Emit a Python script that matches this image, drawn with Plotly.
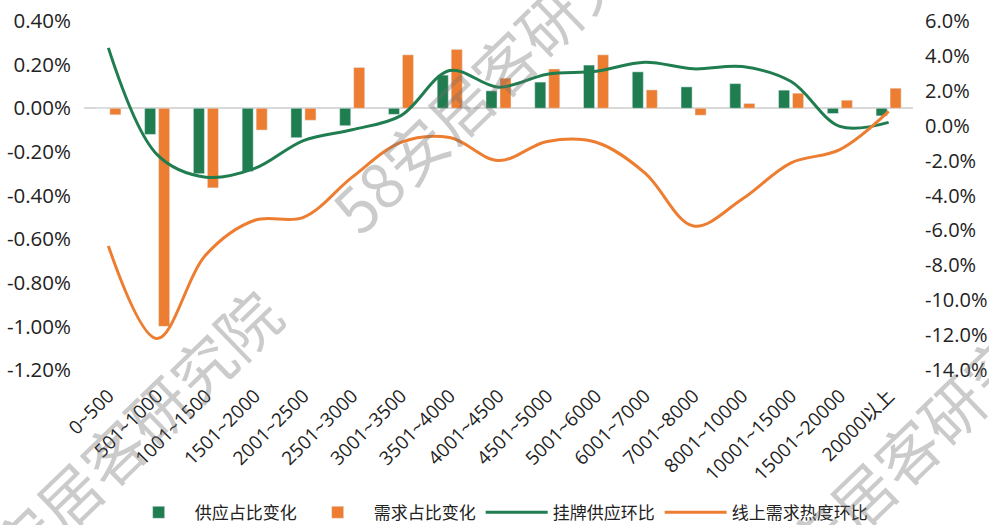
import plotly.graph_objects as go

categories = ["0~500", "501~1000", "1001~1500", "1501~2000", "2001~2500", "2501~3000",
              "3001~3500", "3501~4000", "4001~4500", "4501~5000", "5001~6000", "6001~7000",
              "7001~8000", "8001~10000", "10001~15000", "15001~20000", "20000以上"]

# left axis (%)
supply_share_change = [0.0, -0.12, -0.30, -0.29, -0.135, -0.08, -0.028, 0.152, 0.08, 0.12,
                       0.198, 0.167, 0.098, 0.113, 0.083, -0.024, -0.035]
demand_share_change = [-0.03, -1.00, -0.365, -0.10, -0.055, 0.187, 0.245, 0.27, 0.138, 0.18,
                       0.245, 0.084, -0.032, 0.022, 0.069, 0.037, 0.092]

# right axis (%)
listing_supply_mom = [4.46, -1.66, -2.95, -2.45, -0.85, -0.23, 0.58, 3.16, 2.21, 2.95,
                      3.12, 3.64, 3.26, 3.39, 2.53, -0.04, 0.19]
online_demand_heat_mom = [-6.9, -12.2, -7.4, -5.42, -5.25, -2.95, -0.95, -0.68, -2.0, -0.9,
                          -0.95, -2.7, -5.75, -4.2, -2.13, -1.37, 0.82]

left_tickvals = [0.4, 0.2, 0.0, -0.2, -0.4, -0.6, -0.8, -1.0, -1.2]
left_ticktext = ["0.40%", "0.20%", "0.00%", "-0.20%", "-0.40%", "-0.60%", "-0.80%", "-1.00%", "-1.20%"]
right_tickvals = [6, 4, 2, 0, -2, -4, -6, -8, -10, -12, -14]
right_ticktext = ["6.0%", "4.0%", "2.0%", "0.0%", "-2.0%", "-4.0%", "-6.0%", "-8.0%",
                  "-10.0%", "-12.0%", "-14.0%"]

GREEN = "#1f7d50"
ORANGE = "#ed7d31"
FONT = "Open Sans, Noto Sans CJK SC, sans-serif"

fig = go.Figure()
fig.add_trace(go.Bar(x=categories, y=supply_share_change, name="供应占比变化",
                     marker_color=GREEN, yaxis="y"))
fig.add_trace(go.Bar(x=categories, y=demand_share_change, name="需求占比变化",
                     marker_color=ORANGE, yaxis="y"))
fig.add_trace(go.Scatter(x=categories, y=listing_supply_mom, name="挂牌供应环比",
                         mode="lines", line=dict(color=GREEN, width=3, shape="spline", smoothing=1),
                         yaxis="y2"))
fig.add_trace(go.Scatter(x=categories, y=online_demand_heat_mom, name="线上需求热度环比",
                         mode="lines", line=dict(color=ORANGE, width=3, shape="spline", smoothing=1),
                         yaxis="y2"))

watermarks = [(0.503, 0.874), (0.031, -0.24), (0.988, -0.241)]
annotations = [dict(text="58安居客研究院", x=x, y=y, xref="paper", yref="paper",
                    xanchor="center", yanchor="middle",
                    showarrow=False, textangle=-44,
                    font=dict(family="Noto Sans CJK SC", size=62, color="rgba(110,110,110,0.36)"))
               for x, y in watermarks]

fig.update_layout(
    width=989, height=525,
    margin=dict(l=84, r=76, t=21, b=155, autoexpand=False),
    paper_bgcolor="white", plot_bgcolor="white",
    font=dict(family=FONT, color="#222222", size=20),
    barmode="group", bargap=0.426, bargroupgap=0.21,
    showlegend=True,
    legend=dict(orientation="h", x=0.499, xanchor="center", y=-0.409, yanchor="middle",
                font=dict(size=17, family="Noto Sans CJK SC", color="#222222"),
                itemwidth=62, traceorder="normal"),
    xaxis=dict(type="category", tickangle=-45, showgrid=False, showline=False, ticks="",
               tickfont=dict(size=19), ticklabelstandoff=10, automargin=False),
    yaxis=dict(range=[-1.2001, 0.4001], tickvals=left_tickvals, ticktext=left_ticktext,
               showgrid=False, zeroline=True, zerolinecolor="#d9d9d9", zerolinewidth=1.5,
               showline=False, ticks="", ticklabelstandoff=12, tickfont=dict(size=20.5),
               automargin=False),
    yaxis2=dict(range=[-14.001, 6.001], tickvals=right_tickvals, ticktext=right_ticktext,
                overlaying="y", side="right", showgrid=False, zeroline=False,
                showline=False, ticks="", ticklabelstandoff=11, tickfont=dict(size=20),
                automargin=False),
    annotations=annotations,
)

fig.write_html("out.html", config={"displayModeBar": False},
               post_script="document.body.style.margin='0';document.body.style.padding='0';")
